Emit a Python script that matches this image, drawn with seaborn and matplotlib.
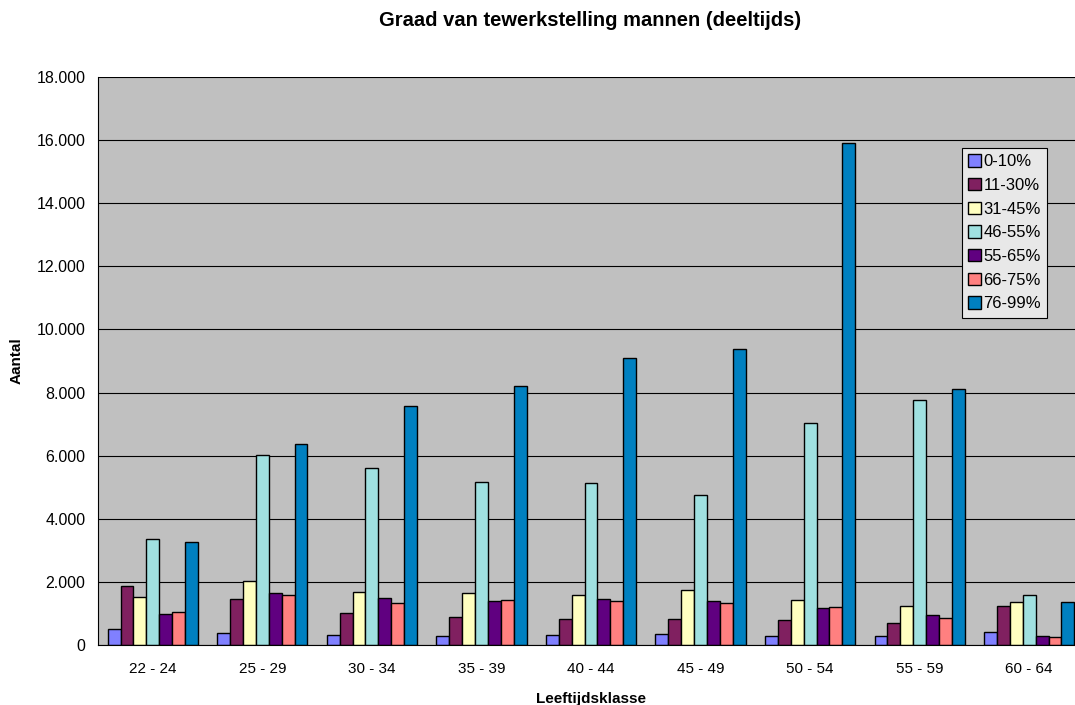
import pandas as pd
import matplotlib
matplotlib.use("Agg")
import matplotlib.pyplot as plt
import seaborn as sns
from matplotlib.ticker import FuncFormatter, MultipleLocator

age_groups = ["22 - 24", "25 - 29", "30 - 34", "35 - 39", "40 - 44",
              "45 - 49", "50 - 54", "55 - 59", "60 - 64"]
klassen = ["0-10%", "11-30%", "31-45%", "46-55%", "55-65%", "66-75%", "76-99%"]

pct_0_10 = [500, 380, 306, 275, 306, 338, 296, 285, 422]
pct_11_30 = [1860, 1447, 1025, 877, 834, 834, 781, 707, 1225]
pct_31_45 = [1521, 2017, 1679, 1637, 1594, 1753, 1426, 1246, 1352]
pct_46_55 = [3350, 6010, 5600, 5150, 5130, 4750, 7030, 7760, 1594]
pct_55_65 = [982, 1658, 1489, 1394, 1468, 1383, 1162, 940, 296]
pct_66_75 = [1056, 1594, 1331, 1426, 1394, 1341, 1204, 855, 253]
pct_76_99 = [3250, 6360, 7570, 8200, 9080, 9390, 15910, 8100, 1362]

colors = ["#8080FF", "#802060", "#FFFFC0", "#A0E0E0", "#600080", "#FF8080", "#0080C0"]

series = [pct_0_10, pct_11_30, pct_31_45, pct_46_55, pct_55_65, pct_66_75, pct_76_99]
rows = []
for k, vals in zip(klassen, series):
    for g, v in zip(age_groups, vals):
        rows.append({"Leeftijdsklasse": g, "Klasse": k, "Aantal": v})
df = pd.DataFrame(rows)

sns.set_style("white")
plt.rcParams["font.family"] = ["Liberation Sans", "DejaVu Sans"]
plt.rcParams["text.color"] = "black"
plt.rcParams["axes.labelcolor"] = "black"
plt.rcParams["xtick.color"] = "black"
plt.rcParams["ytick.color"] = "black"

fig = plt.figure(figsize=(10.75, 7.05), dpi=100)
ax = fig.add_axes([98 / 1075, 60 / 705, 986 / 1075, 568 / 705])
ax.set_facecolor("#C0C0C0")

sns.barplot(data=df, x="Leeftijdsklasse", y="Aantal", hue="Klasse",
            hue_order=klassen, palette=colors, width=0.824,
            edgecolor="black", linewidth=1, saturation=1, ax=ax)

ax.set_ylim(0, 18000)
ax.set_xlim(-0.5, len(age_groups) - 0.5)
ax.yaxis.set_major_locator(MultipleLocator(2000))
ax.yaxis.set_major_formatter(FuncFormatter(lambda v, p: f"{int(v):,}".replace(",", ".")))
ax.set_axisbelow(True)
ax.grid(axis="y", color="black", linewidth=0.8)
ax.grid(axis="x", visible=False)

ax.set_xticks([i + 0.5 for i in range(-1, len(age_groups))], minor=True)
ax.tick_params(axis="x", which="major", length=0, labelsize=11, pad=12)
ax.tick_params(axis="x", which="minor", length=5, color="black", direction="out")
ax.tick_params(axis="y", length=5, color="black", direction="out", labelsize=11.5, pad=4)

for s in ["top", "right"]:
    ax.spines[s].set_visible(False)
for s in ["left", "bottom"]:
    ax.spines[s].set_color("black")
    ax.spines[s].set_linewidth(0.8)

ax.set_xlabel("Leeftijdsklasse", fontsize=11, fontweight="bold", labelpad=12)
ax.set_ylabel("Aantal", fontsize=11, fontweight="bold", labelpad=9)
fig.text(590 / 1075, 1 - 21 / 705, "Graad van tewerkstelling mannen (deeltijds)",
         ha="center", va="center", fontsize=14.5, fontweight="bold")

leg = ax.legend(loc="upper left", bbox_to_anchor=(962 / 1075, 1 - 148 / 705),
                bbox_transform=fig.transFigure, borderaxespad=0,
                frameon=True, fancybox=False, edgecolor="black",
                facecolor="#E8E8E8", framealpha=1, fontsize=12,
                handlelength=0.75, handleheight=0.75, handletextpad=0.15,
                labelspacing=0.52, borderpad=0.38, title=None)
leg.get_frame().set_linewidth(0.8)

fig.savefig("out.png", dpi=100, facecolor="white")
